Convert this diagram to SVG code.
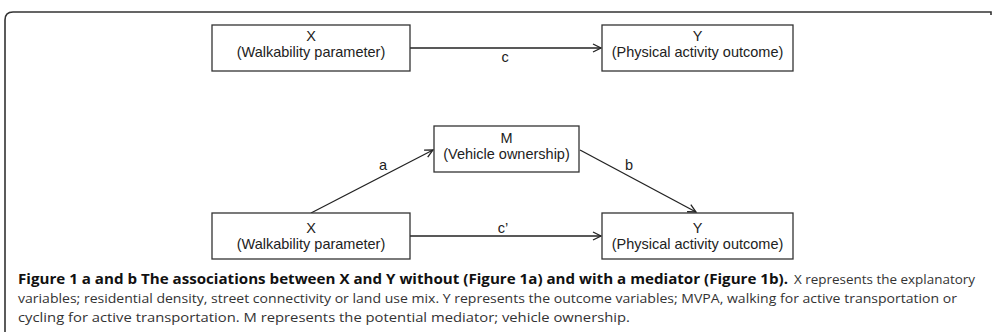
<svg xmlns="http://www.w3.org/2000/svg" width="993" height="332" viewBox="0 0 993 332">
<defs>
<style>
.box{fill:#fff;stroke:#333;stroke-width:1.3}
.lbl{font-family:"Liberation Sans",Arial,sans-serif;font-size:14.5px;fill:#222;text-anchor:middle}
.edge{stroke:#222;stroke-width:1.3;fill:none;marker-end:url(#arr)}
.cap{font-family:"Open Sans","Noto Sans",sans-serif;font-size:13px;fill:#333}
.capb{font-family:"Open Sans","Noto Sans",sans-serif;font-size:14px;font-weight:bold;fill:#111}
</style>
<marker id="arr" markerUnits="userSpaceOnUse" markerWidth="12" markerHeight="12" refX="9" refY="5" orient="auto">
<path d="M1,1 L9,5 L1,9" fill="none" stroke="#222" stroke-width="1.3"/>
</marker>
</defs>
<rect width="993" height="332" fill="#fff"/>
<path d="M5,332 V20 Q5,12 13,12 H991 V15" fill="none" stroke="#333" stroke-width="1.6"/>
<g id="connectors">
<line class="edge" x1="410" y1="48" x2="601" y2="48"/>
<line class="edge" x1="410" y1="236" x2="601" y2="236"/>
<line class="edge" x1="311" y1="213" x2="433" y2="150"/>
<line class="edge" x1="580" y1="150" x2="696" y2="212"/>
<text class="lbl" x="505" y="62">c</text>
<text class="lbl" x="503" y="233">c’</text>
<text class="lbl" x="383" y="170">a</text>
<text class="lbl" x="629" y="170">b</text>
</g>
<g id="x1">
<rect class="box" x="212" y="25" width="198" height="46"/>
<text class="lbl" x="311" y="41">X</text>
<text class="lbl" x="311" y="57">(Walkability parameter)</text>
</g>
<g id="y1">
<rect class="box" x="602" y="25" width="191" height="46"/>
<text class="lbl" x="697.5" y="41">Y</text>
<text class="lbl" x="697.5" y="57">(Physical activity outcome)</text>
</g>
<g id="m">
<rect class="box" x="434" y="126" width="145" height="46"/>
<text class="lbl" x="506.5" y="143">M</text>
<text class="lbl" x="506.5" y="159">(Vehicle ownership)</text>
</g>
<g id="x2">
<rect class="box" x="212" y="213" width="198" height="46"/>
<text class="lbl" x="311" y="233">X</text>
<text class="lbl" x="311" y="249">(Walkability parameter)</text>
</g>
<g id="y2">
<rect class="box" x="602" y="213" width="191" height="46"/>
<text class="lbl" x="697.5" y="233">Y</text>
<text class="lbl" x="697.5" y="249">(Physical activity outcome)</text>
</g>
<g id="caption">
<text class="capb" x="18" y="284" textLength="770" lengthAdjust="spacingAndGlyphs">Figure 1 a and b The associations between X and Y without (Figure 1a) and with a mediator (Figure 1b).</text>
<text class="cap" x="794" y="284" textLength="181" lengthAdjust="spacingAndGlyphs">X represents the explanatory</text>
<text class="cap" x="18" y="303" textLength="939" lengthAdjust="spacingAndGlyphs">variables; residential density, street connectivity or land use mix. Y represents the outcome variables; MVPA, walking for active transportation or</text>
<text class="cap" x="18" y="322" textLength="612" lengthAdjust="spacingAndGlyphs">cycling for active transportation. M represents the potential mediator; vehicle ownership.</text>
</g>
</svg>
